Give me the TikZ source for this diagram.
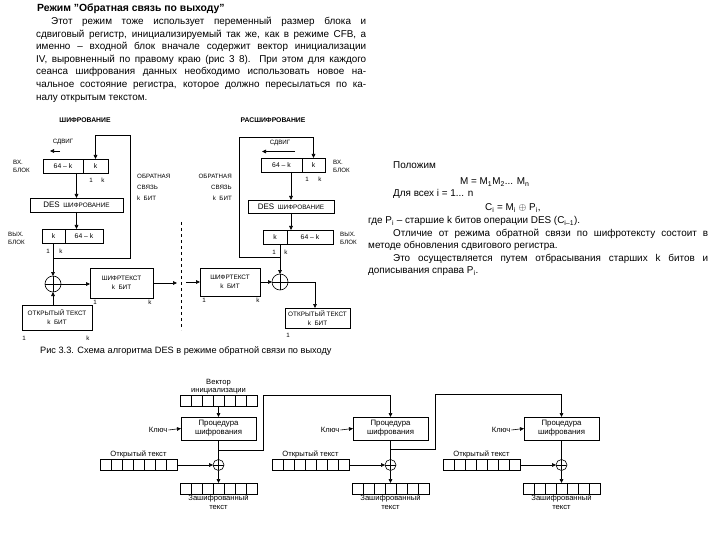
\documentclass[tikz,border=0pt]{standalone}
\usepackage{fontspec}
\setmainfont{Liberation Sans}
\usetikzlibrary{arrows.meta,positioning,calc}

\begin{document}
\begin{tikzpicture}[
  x=1pt, y=-1pt,
  txt/.style ={font=\fontsize{9.9}{12.6}\selectfont, inner sep=0, align=justify},
  ttl/.style ={font=\bfseries\fontsize{10.4}{11}\selectfont, inner sep=0},
  head/.style ={font=\bfseries\fontsize{6.8}{8}\selectfont, inner sep=0},
  lbl/.style ={font=\fontsize{6.2}{8.2}\selectfont, inner sep=0, align=left},
  fbl/.style ={font=\fontsize{6.2}{11}\selectfont, inner sep=0},
  lblb/.style={font=\fontsize{7.6}{8.4}\selectfont, inner sep=1pt, align=center},
  ln/.style  ={line width=0.6pt},
  arr/.style ={line width=0.6pt, -{Triangle[length=4pt,width=3.6pt]}},
  reg/.style ={draw, line width=0.6pt, inner sep=0, outer sep=0, minimum height=14pt,
               font=\fontsize{6.8}{8}\selectfont},
  blk/.style ={draw, line width=0.6pt, inner sep=0, outer sep=0, align=center,
               font=\fontsize{6.4}{9}\selectfont},
  xor/.style ={circle, draw, line width=0.6pt, inner sep=0, outer sep=0, minimum size=16pt,
               path picture={\draw[line width=0.6pt]
                 (path picture bounding box.north) -- (path picture bounding box.south)
                 (path picture bounding box.west) -- (path picture bounding box.east);}},
  xorsm/.style={xor, minimum size=11pt},
  cellreg/.style={draw, line width=0.5pt, inner sep=0, outer sep=0,
               minimum width=77pt, minimum height=11pt,
               path picture={\foreach \i in {1,...,6}{\draw[line width=0.5pt]
                 ([xshift=\i*11pt]path picture bounding box.south west) --
                 ([xshift=\i*11pt]path picture bounding box.north west);}}},
]
\useasboundingbox (0,0) rectangle (720,540);

% ==================================================== text at the top
\node[ttl, anchor=west] (title) at (37,9) {Режим "Обратная связь по выходу"};
\node[txt, text width=330pt, anchor=north west] (intro) at (36,17)
  {\hspace*{15pt}Этот режим тоже использует переменный размер блока и\linebreak
   сдвиговый регистр, инициализируемый так же, как в режиме CFB, а\linebreak
   именно – входной блок вначале содержит вектор инициализации\linebreak
   IV, выровненный по правому краю (рис 3 8). При этом для каждого\linebreak
   сеанса шифрования данных необходимо использовать новое на-\linebreak
   чальное состояние регистра, которое должно пересылаться по ка-\linebreak
   налу открытым текстом.};

% ==================================================== LEFT: encryption
\node[head] (encT) at (85,120) {ШИФРОВАНИЕ};
\node[reg, minimum width=40pt, anchor=north west] (inA) at (43,159) {64 – k};
\node[reg, minimum width=25pt, anchor=west] (inB) at (inA.east) {k};
\node[lbl, anchor=west] (inL) at (13,166) {ВХ.\\БЛОК};
\node[lbl] (shL) at (63,142) {СДВИГ};
\coordinate (shS) at (60,151);
\coordinate (shE) at (50,151);
\node[lbl] (inOne) at (91,180) {1};
\node[lbl] (inK) at (103,180) {k};

\node[blk, minimum width=93pt, minimum height=14pt] (des) at (76.5,205)
  {{\fontsize{8}{9}\selectfont DES}\ \ ШИФРОВАНИЕ};

\node[reg, minimum width=23pt, anchor=north west] (outA) at (42,229) {k};
\node[reg, minimum width=38pt, anchor=west] (outB) at (outA.east) {64 – k};
\node[lbl, anchor=west] (outL) at (8,238) {ВЫХ.\\БЛОК};
\node[lbl] (outOne) at (48,251) {1};
\node[lbl] (outK) at (61,251) {k};

\node[xor] (xr) at (53,284) {};
\node[blk, minimum width=63pt, minimum height=30pt] (ct) at (121.5,283) {ШИФРТЕКСТ\\k\ \ БИТ};
\node[lbl] (ctOne) at (95,302) {1};
\node[lbl] (ctK) at (150,302) {k};
\node[blk, minimum width=70pt, minimum height=25pt] (pt) at (57,317.5) {ОТКРЫТЫЙ ТЕКСТ\\k\ \ БИТ};
\node[lbl] (ptOne) at (24,338) {1};
\node[lbl] (ptK) at (88,338) {k};
\node[fbl, anchor=north west, align=left] (fbL) at (137,174) {ОБРАТНАЯ\\СВЯЗЬ\\k\ \ БИТ};
\coordinate (ctO) at (177,283);

\draw[arr] (shS) -- (shE);
\draw[arr] (inA.south -| des.north) -- (des.north);
\draw[arr] (des.south) -- (des.south |- outB.north);
\draw[arr] (outA.south -| xr.north) -- (xr.north);
% feedback: the k output bits go back into the right end of the register
\coordinate (fbA) at (53,258);
\coordinate (fbB) at (130,135);
\draw[arr] (fbA) -| (fbB) -| (inB.north);
\draw[arr] (pt.north -| xr.south) -- (xr.south);
\draw[arr] (xr.east) -- (xr.east -| ct.west);
\draw[arr] (ct.east) -- (ctO);

% the channel between the two sides
\coordinate (dvT) at (181,222);
\coordinate (dvB) at (181,330);
\draw[ln, dashed] (dvT) -- (dvB);

% ==================================================== RIGHT: decryption
\node[head] (decT) at (273,120) {РАСШИФРОВАНИЕ};
\node[reg, minimum width=41pt, anchor=north west] (inC) at (261,158) {64 – k};
\node[reg, minimum width=23pt, anchor=west] (inD) at (inC.east) {k};
\node[lbl, anchor=west] (inL2) at (333,166) {ВХ.\\БЛОК};
\node[lbl] (shL2) at (280,143) {СДВИГ};
\coordinate (shS2) at (295,151.5);
\coordinate (shE2) at (262,151.5);
\node[lbl] (inOne2) at (307,179) {1};
\node[lbl] (inK2) at (320,179) {k};

\node[blk, minimum width=86pt, minimum height=13pt] (des2) at (291,206.5)
  {{\fontsize{8}{9}\selectfont DES}\ \ ШИФРОВАНИЕ};

\node[reg, minimum width=24pt, anchor=north west] (outC) at (263,230) {k};
\node[reg, minimum width=46pt, anchor=west] (outD) at (outC.east) {64 – k};
\node[lbl, anchor=west] (outL2) at (340,238) {ВЫХ.\\БЛОК};
\node[lbl] (outOne2) at (274,252) {1};
\node[lbl] (outK2) at (286,252) {k};

\node[xor] (xr2) at (280,282) {};
\node[blk, minimum width=60pt, minimum height=28pt] (ct2) at (230,282) {ШИФРТЕКСТ\\k\ \ БИТ};
\node[lbl] (ctOne2) at (204,300) {1};
\node[lbl] (ctK2) at (258,300) {k};
\node[blk, minimum width=65pt, minimum height=20pt] (pt2) at (317.5,318) {ОТКРЫТЫЙ ТЕКСТ\\k\ \ БИТ};
\node[lbl] (ptOne2) at (288,335) {1};
\node[fbl, anchor=north east, align=right] (fbL2) at (232,174) {ОБРАТНАЯ\\СВЯЗЬ\\k\ \ БИТ};
\coordinate (ctI) at (186,282);

\draw[arr] (shS2) -- (shE2);
\draw[arr] (inC.south -| des2.north) -- (des2.north);
\draw[arr] (des2.south) -- (des2.south |- outD.north);
\draw[arr] (outC.south -| xr2.north) -- (xr2.north);
\coordinate (fbC) at (280,257);
\coordinate (fbD) at (239,137);
\draw[arr] (fbC) -| (fbD) -| (inD.north);
\draw[arr] (ctI) -- (ct2.west);
\draw[arr] (ct2.east) -- (xr2.west);
\draw[arr] (xr2.east) -| ([xshift=-2.5pt]pt2.north);

\node[font=\fontsize{9.2}{10}\selectfont, inner sep=0, anchor=west] (cap) at (40,351)
  {Рис 3.3. Схема алгоритма DES в режиме обратной связи по выходу};

% ==================================================== text on the right
\node[txt, anchor=west] (letT) at (393,165) {Положим};
\node[txt, anchor=west] (mT) at (460,182) {M = M\textsubscript{1}M\textsubscript{2}... M\textsubscript{n}};
\node[txt, anchor=west] (allT) at (393,194) {Для всех i = 1... n};
\node[txt, anchor=west] (cT) at (485,208) {C\textsubscript{i} = M\textsubscript{i} $\oplus$ P\textsubscript{i},};
\node[txt, text width=340pt, anchor=north west] (diffT) at (368,216)
  {где P\textsubscript{i} – старшие k битов операции DES (C\textsubscript{i–1}).\\
   \hspace*{25pt}Отличие от режима обратной связи по шифротексту состоит в\linebreak
   методе обновления сдвигового регистра.\\
   \hspace*{25pt}Это осуществляется путем отбрасывания старших k битов и\linebreak
   дописывания справа P\textsubscript{i}.};

% ==================================================== bottom: three steps of the chain
\node[cellreg] (iv) at (218.5,401) {};
\node[lblb, anchor=south] (ivL) at (iv.north) {Вектор\\инициализации};

\foreach \s/\x in {1/218.5, 2/390.5, 3/561.5}{
  \node[blk, minimum width=75pt, minimum height=23pt, font=\fontsize{7.8}{9}\selectfont]
    (proc\s) at (\x,428.5) {Процедура\\шифрования};
  \node[lblb, anchor=east] (key\s) at (\x-50,430) {Ключ};
  \node[xorsm] (xb\s) at (\x,465) {};
  \node[cellreg] (pr\s) at (\x-80,465) {};
  \node[lblb, anchor=south] (prL\s) at (pr\s.north) {Открытый текст};
  \node[cellreg] (cr\s) at (\x,488.5) {};
  \node[lblb, anchor=north] (crL\s) at (cr\s.south) {Зашифрованный\\текст};
  \draw[arr] (key\s.east) -- (proc\s.west);
  \draw[ln] (proc\s.south) -- (xb\s.north);
  \draw[arr] (pr\s.east) -- (xb\s.west);
  \draw[arr] (xb\s.south) -- (cr\s.north);
}
\draw[arr] (iv.south) -- (proc1.north);

% output of each step is the next step's input
\coordinate (b1) at (218.5,450);
\coordinate (r1) at (263,450);
\coordinate (t1) at (263,395);
\draw[arr] (b1) -- (r1) -- (t1) -| (proc2.north);
\coordinate (b2) at (390.5,449);
\coordinate (r2) at (435,449);
\coordinate (t2) at (435,394);
\draw[arr] (b2) -- (r2) -- (t2) -| (proc3.north);

\end{tikzpicture}
\end{document}
